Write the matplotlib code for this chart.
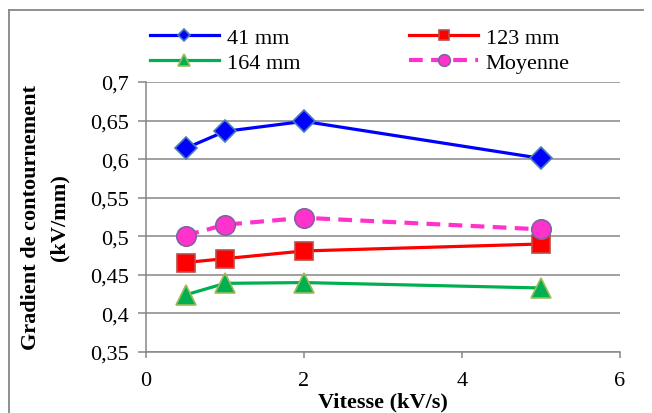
import matplotlib
matplotlib.use('Agg')
import matplotlib.pyplot as plt
from matplotlib.lines import Line2D
from matplotlib.ticker import FuncFormatter

plt.rcParams['font.family'] = ['Liberation Serif', 'DejaVu Serif']

vitesse = [0.5, 1, 2, 5]
g41 = [0.614, 0.636, 0.649, 0.601]
g123 = [0.466, 0.471, 0.481, 0.490]
g164 = [0.424, 0.439, 0.440, 0.433]
moyenne = [0.501, 0.515, 0.524, 0.509]

grey = '#868686'
fs = 16

fig = plt.figure(figsize=(6.52, 4.14), dpi=100)
ax = fig.add_axes([146/652, 1-353/414, (620-146)/652, (353-83)/414])

l41, = ax.plot(vitesse, g41, color='#0000ff', lw=2.3, marker='D', ms=11,
               mfc='#0000ff', mec='#4a7ebb', mew=1.2, label='41 mm', zorder=5)
l123, = ax.plot(vitesse, g123, color='#ff0000', lw=2.3, marker='s', ms=13,
                mfc='#ff0000', mec='#be4b48', mew=1.2, label='123 mm', zorder=5)
l164, = ax.plot(vitesse, g164, color='#00b050', lw=2.3, marker='^', ms=14,
                mfc='#00b050', mec='#9bbb59', mew=1.2, label='164 mm', zorder=5)
lmoy, = ax.plot(vitesse, moyenne, color='#ff33cc', lw=3, ls=(0, (3.3, 2)), marker='o', ms=14,
                mfc='#ff33cc', mec='#7f64a2', mew=1.2, label='Moyenne', zorder=5)

ax.set_xlim(0, 6)
ax.set_ylim(0.35, 0.7)
ax.set_xticks([0, 2, 4, 6])
ax.set_yticks([0.35, 0.4, 0.45, 0.5, 0.55, 0.6, 0.65, 0.7])
fmt = lambda v, p: ('%g' % round(v, 2)).replace('.', ',')
ax.xaxis.set_major_formatter(FuncFormatter(fmt))
ax.yaxis.set_major_formatter(FuncFormatter(fmt))
ax.grid(axis='y', color=grey, lw=1.1)
ax.set_axisbelow(True)
for s in ['top', 'right']:
    ax.spines[s].set_visible(False)
for s in ['left', 'bottom']:
    ax.spines[s].set_color(grey)
    ax.spines[s].set_linewidth(1.1)
ax.tick_params(axis='y', direction='out', length=6, width=1.1, color=grey, labelsize=fs, pad=6)
ax.tick_params(axis='x', direction='out', length=4, width=1.1, color=grey, labelsize=fs, pad=10)

ax.set_xlabel('Vitesse (kV/s)', fontsize=fs, fontweight='bold', labelpad=1)
ax.set_ylabel('Gradient de contournement\n(kV/mm)', fontsize=fs, fontweight='bold',
              linespacing=1.5)
ax.yaxis.set_label_coords((69-146)/474, 0.5)

fig.legend([l41, l164, l123, lmoy], ['41 mm', '164 mm', '123 mm', 'Moyenne'],
           loc='upper left', bbox_to_anchor=(150/652, 1-28/414), ncol=2,
           frameon=False, fontsize=fs, markerscale=0.6, handlelength=3.1,
           columnspacing=4.9, handletextpad=0.35, labelspacing=0.2,
           borderpad=0, borderaxespad=0)

fig.add_artist(Line2D([9/652, 643/652], [1-11/414, 1-11/414], color=grey, lw=1.3))
fig.add_artist(Line2D([9/652, 9/652], [0, 1-11/414], color=grey, lw=1.3))

fig.savefig('out.png', dpi=100)
